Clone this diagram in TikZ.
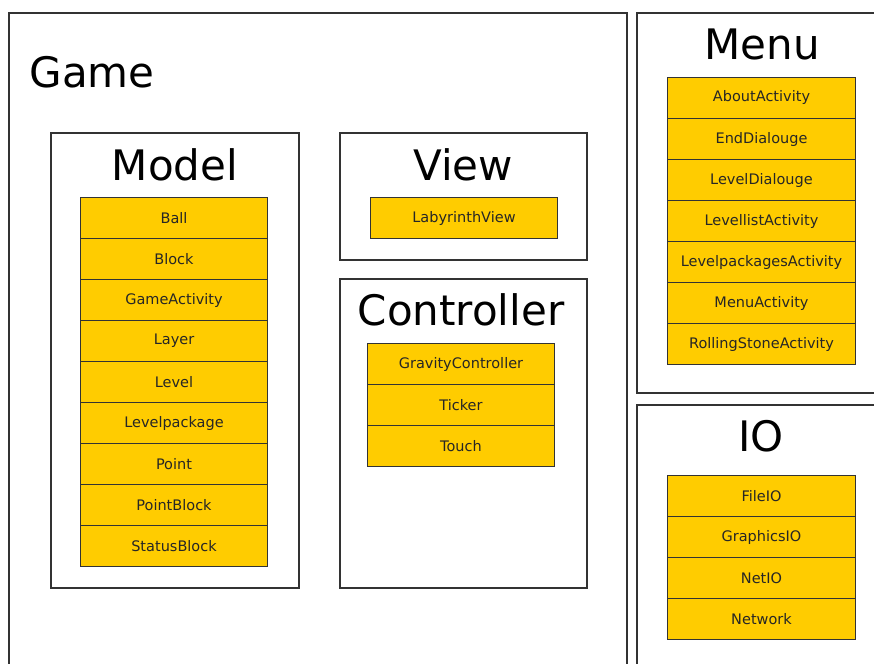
\documentclass[tikz,border=0pt]{standalone}
\usepackage{fontspec}
\setmainfont{DejaVu Sans}
\definecolor{itemyellow}{HTML}{FFCC00}
\definecolor{edge}{HTML}{333333}
\begin{document}
\begin{tikzpicture}[x=1pt,y=-1pt,
  frame/.style={draw=edge,line width=1.2pt,fill=white},
  item/.style={draw=edge,line width=1pt,fill=itemyellow,inner sep=0pt,anchor=north west,
    minimum height=41pt,text=black!85,font=\fontsize{14.5}{16}\selectfont},
  title/.style={anchor=base,font=\fontsize{42}{46}\selectfont,inner sep=0pt}]
\useasboundingbox (0,0) rectangle (874,663);
\clip (0,0) rectangle (874,663);
% outer frames
\draw[frame] (9,13) rectangle (627,700);
\draw[frame] (637,13) rectangle (900,393);
\draw[frame] (637,405) rectangle (900,700);
\node[title] (tgame) at (92,88) {Game};
% Model
\draw[frame] (51,133) rectangle (299,588);
\node[title] (tmodel) at (175,180) {Model};
\foreach \t [count=\i from 0] in {Ball,Block,GameActivity,Layer,Level,Levelpackage,Point,PointBlock,StatusBlock}
  \node[item,minimum width=187pt] (m\i) at (80,197+41*\i) {\t};
% View
\draw[frame] (340,133) rectangle (587,260);
\node[title] (tview) at (463,180) {View};
\node[item,minimum width=187pt] (v0) at (370,197) {LabyrinthView};
% Controller
\draw[frame] (340,279) rectangle (587,588);
\node[title] (tcontroller) at (461,325) {Controller};
\foreach \t [count=\i from 0] in {GravityController,Ticker,Touch}
  \node[item,minimum width=187pt] (c\i) at (367,343+41*\i) {\t};
% Menu
\node[title] (tmenu) at (762,60) {Menu};
\foreach \t [count=\i from 0] in {AboutActivity,EndDialouge,LevelDialouge,LevellistActivity,LevelpackagesActivity,MenuActivity,RollingStoneActivity}
  \node[item,minimum width=188pt] (n\i) at (667,77+41*\i) {\t};
% IO
\node[title] (tio) at (761,451) {IO};
\foreach \t [count=\i from 0] in {FileIO,GraphicsIO,NetIO,Network}
  \node[item,minimum width=188pt] (o\i) at (667,475+41*\i) {\t};
\end{tikzpicture}
\end{document}
